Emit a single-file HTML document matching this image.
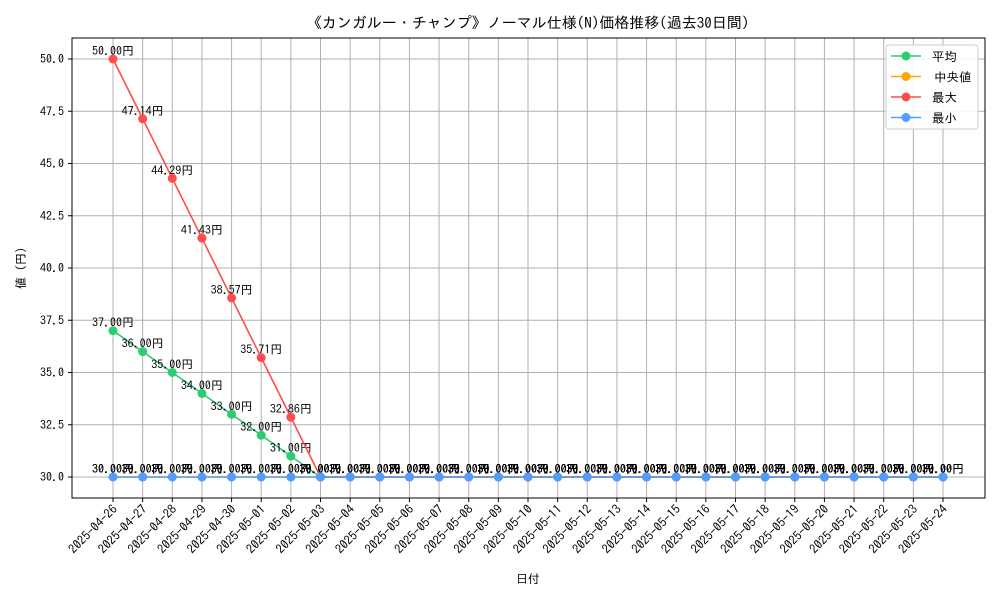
<!DOCTYPE html>
<html><head><meta charset="utf-8"><style>
body{margin:0;background:#fff;}
svg{display:block;font-family:"IPAGothic","Noto Sans CJK JP",monospace;}
</style></head><body>
<svg id="chart" width="1000" height="600" viewBox="0 0 1000 600">
<text x="528" y="28" text-anchor="middle" font-size="15">《カンガルー・チャンプ》ノーマル仕様(N)価格推移(過去30日間)</text>
<text x="528" y="583" text-anchor="middle" font-size="12">日付</text>
<text transform="translate(25,268) rotate(-90)" text-anchor="middle" font-size="12">値 (円)</text>
<g id="grid"></g><g id="series"></g><g id="ticks"></g>
<rect x="72" y="38" width="913" height="460" fill="none" stroke="#000" stroke-width="1"/>
<g id="legend"></g>
</svg>
<script>
const dates=["2025-04-26","2025-04-27","2025-04-28","2025-04-29","2025-04-30","2025-05-01","2025-05-02","2025-05-03","2025-05-04","2025-05-05","2025-05-06","2025-05-07","2025-05-08","2025-05-09","2025-05-10","2025-05-11","2025-05-12","2025-05-13","2025-05-14","2025-05-15","2025-05-16","2025-05-17","2025-05-18","2025-05-19","2025-05-20","2025-05-21","2025-05-22","2025-05-23","2025-05-24"];
const avgVals=[37,36,35,34,33,32,31,30,30,30,30,30,30,30,30,30,30,30,30,30,30,30,30,30,30,30,30,30,30];
const medVals=[30,30,30,30,30,30,30,30,30,30,30,30,30,30,30,30,30,30,30,30,30,30,30,30,30,30,30,30,30];
const maxVals=[50,47.14,44.29,41.43,38.57,35.71,32.86,30,30,30,30,30,30,30,30,30,30,30,30,30,30,30,30,30,30,30,30,30,30];
const minVals=[30,30,30,30,30,30,30,30,30,30,30,30,30,30,30,30,30,30,30,30,30,30,30,30,30,30,30,30,30];
const yTicks=[30,32.5,35,37.5,40,42.5,45,47.5,50];
const seriesNames=["平均","中央値","最大","最小"];
const NS="http://www.w3.org/2000/svg";
const x=i=>113+i*(943-113)/(dates.length-1);
const y=v=>477-(v-30)*(477-59)/20;
function mk(tag,attrs,parent,text){const e=document.createElementNS(NS,tag);for(const k in attrs)e.setAttribute(k,attrs[k]);if(text!==undefined)e.textContent=text;parent.appendChild(e);return e;}
const grid=document.getElementById('grid'),ticks=document.getElementById('ticks'),ser=document.getElementById('series');
yTicks.forEach(t=>{
 const l=mk('line',{x1:72,x2:985,y1:y(t),y2:y(t),stroke:'#b0b0b0','stroke-width':1},grid);
 
 
 mk('line',{x1:68,x2:72,y1:y(t),y2:y(t),stroke:'#000'},ticks);
 const tx=mk('text',{x:64,y:y(t)+4,'text-anchor':'end','font-size':12},ticks,t.toFixed(1));
 
 
});
dates.forEach((d,i)=>{
 const l=mk('line',{x1:x(i),x2:x(i),y1:38,y2:498,stroke:'#b0b0b0','stroke-width':1},grid);
 
 
 mk('line',{x1:x(i),x2:x(i),y1:498,y2:502,stroke:'#000'},ticks);
 const tx=mk('text',{x:x(i)+5,y:510,'text-anchor':'end','font-size':12.5,transform:`rotate(-45 ${x(i)+5} 510)`},ticks,d);
 
 
});
const defs=[[avgVals,'#2ecc71','average'],[medVals,'#ffa500','median'],[maxVals,'#ff4d4d','max'],[minVals,'#4d9eff','min']];
defs.forEach(([vals,col,nm])=>{
 const g=mk('g',{},ser);
 
 
 const pl=mk('polyline',{points:vals.map((v,i)=>x(i)+','+y(v)).join(' '),fill:'none',stroke:col,'stroke-width':1.6},g);
 
 
 vals.forEach((v,i)=>{
  const c=mk('circle',{cx:x(i),cy:y(v),r:4.5,fill:col},g);
  
  
  const t=mk('text',{x:x(i),y:y(v)-4,'text-anchor':'middle','font-size':12},g,v.toFixed(2)+'円');
  
  
 });
});
const lg=document.getElementById('legend');
mk('rect',{x:886,y:45,width:92,height:84,rx:3,fill:'#fff','fill-opacity':0.85,stroke:'#ccc'},lg);
seriesNames.forEach((n,i)=>{
 const yy=56+i*20.5,col=defs[i][1];
 const e=mk('g',{},lg);
 
 
 mk('line',{x1:891,x2:921,y1:yy,y2:yy,stroke:col,'stroke-width':1.6},e);
 mk('circle',{cx:906,cy:yy,r:4.5,fill:col},e);
 mk('text',{x:(i==1?934:932),y:yy+5,'font-size':12.5},e,n);
});
</script>
</body></html>
